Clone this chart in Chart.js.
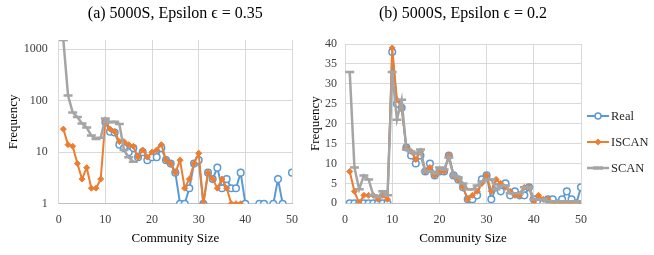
<!DOCTYPE html>
<html><head><meta charset="utf-8">
<script src="https://cdn.jsdelivr.net/npm/chart.js@4.4.0/dist/chart.umd.min.js"></script>
<style>
html,body{margin:0;padding:0;background:#fff;}
#wrap{position:relative;width:654px;height:255px;overflow:hidden;font-family:"Liberation Serif",serif;background:#fff;}
#c1{position:absolute;left:0;top:0;}
#c2{position:absolute;left:300px;top:0;}
.leg{position:absolute;left:587px;height:14px;display:flex;align-items:center;font-size:12.5px;color:#262626;white-space:nowrap;}
.leg svg{margin-right:2px;}
</style></head>
<body><div id="wrap">
<canvas id="c1" width="310" height="255"></canvas>
<canvas id="c2" width="354" height="255"></canvas>
<div class="leg" style="top:109px"><svg width="22" height="10"><line x1="0" y1="5" x2="22" y2="5" stroke="#5B9BD5" stroke-width="2"/><circle cx="11" cy="5" r="3" fill="#fff" stroke="#5B9BD5" stroke-width="1.5"/></svg>Real</div>
<div class="leg" style="top:135px"><svg width="22" height="10"><line x1="0" y1="5" x2="22" y2="5" stroke="#ED7D31" stroke-width="2"/><polygon points="11,1.5 14.5,5 11,8.5 7.5,5" fill="#ED7D31"/></svg>ISCAN</div>
<div class="leg" style="top:161px"><svg width="22" height="10"><line x1="0" y1="5" x2="22" y2="5" stroke="#A5A5A5" stroke-width="2.5"/><rect x="6" y="3.3" width="10" height="3.4" fill="#A5A5A5"/></svg>SCAN</div>
</div>
<script>
// ---- data ----
const sizes = [1,2,3,4,5,6,7,8,9,10,11,12,13,14,15,16,17,18,19,20,21,22,23,24,25,26,27,28,29,30,31,32,33,34,35,36,37,38,39,40,41,42,43,44,45,46,47,48,49,50];
const realCounts = [0,0,0,0,0,0,0,0,0,38, 25,24,14,12,10,12,8,10,7,8, 8,12,7,6,4,1,1,2,6,7, 1,4,3,5,2,3,2,2,4,1, 0,0,1,1,0,1,3,1,0,4];
const iscanA = [28,14,13,6,3,5,2,2,3,41, 28,25,16,16,14,13,8,11,8,10, 11,14,7,6,4,7,2,3,6,9.5, 1,4,3,2,3,2,1,1,1,0, 0,0,0,0,0,0,0,0,0,0];
const scanA = [1500,125,59,48,36,30,21,18,19,45, 38,39,35,11,8,6.5,0,0,0,0, 0,0,0,0,0,0,0,0,0,0, 0,0,0,0,0,0,0,0,0,0, 0,0,0,0,0,0,0,0,0,0];
const iscanB = [8,3,0,2,2,2,1,2,1,39, 26,24,14,13,11,13,8,9,7,8, 8,12,7,6,4,1,2,3,5,7, 3,6,5,4,3,2,2,4,4,0, 2,1,1,0,0,0,0,0,0,0];
const scanB = [33,9,3.5,7,6,2,1.5,3,2,33, 21,26,13.5,13,12.5,13.5,8,8,7.5,9, 8.5,11.5,7,6.5,5,3.5,3.5,4.5,5.5,6, 6,3.5,4.5,4.5,2.5,2.5,2.5,4,4,1, 1,1,0.5,0.5,0.5,0.5,0.5,0.5,0.5,0];
const logTicks = [1,10,100,1000];
const seriesNames = ['Real','ISCAN','SCAN'];
const titleA = '(a) 5000S, Epsilon \u03f5 = 0.35';
const titleB = '(b) 5000S, Epsilon \u03f5 = 0.2';

// ---- styling ----
Chart.defaults.font.family = "'Liberation Serif', 'Times New Roman', serif";
Chart.defaults.color = '#404040';
const BLUE = '#5B9BD5', ORANGE = '#ED7D31', GRAY = '#A5A5A5', GRID = '#D9D9D9';

function pts(vals, log) {
  return sizes.map((s, i) => ({x: s, y: (log && !(vals[i] > 0)) ? null : vals[i]}));
}
function datasets(real, iscan, scan, log) {
  return [
    {label: seriesNames[0], data: pts(real, log), borderColor: BLUE, borderWidth: 2, pointStyle: 'circle',
     pointRadius: 3.3, pointBorderWidth: 1.5, pointBackgroundColor: '#ffffff', pointBorderColor: BLUE, order: 3},
    {label: seriesNames[1], data: pts(iscan, log), borderColor: ORANGE, borderWidth: 2, pointStyle: 'rectRot',
     pointRadius: 3, pointBorderWidth: 1, pointBackgroundColor: ORANGE, pointBorderColor: ORANGE, order: 2},
    {label: seriesNames[2], data: pts(scan, log), borderColor: GRAY, borderWidth: 2.5, pointStyle: 'line',
     pointRadius: 4.5, pointBorderWidth: 2.5, pointBorderColor: GRAY, order: 1}
  ];
}
function xScale(h) {
  return {type: 'linear', min: 0, max: 50,
    ticks: {stepSize: 10, padding: 9, font: {size: 12}, color: '#404040', maxRotation: 0},
    grid: {color: GRID, drawTicks: false}, border: {color: '#BFBFBF'},
    title: {display: true, text: 'Community Size', font: {size: 13}, color: '#000', padding: {top: 0, bottom: 8.5}},
    afterFit: s => { s.height = h; }};
}
function titleOpts(text, pb) {
  return {display: true, text: text, fullSize: false, font: {size: 16, weight: 'normal'}, color: '#000',
    padding: {top: 4.4, bottom: pb}};
}

new Chart(document.getElementById('c1'), {
  type: 'line',
  data: {datasets: datasets(realCounts, iscanA, scanA, true)},
  options: {
    responsive: false, animation: false, devicePixelRatio: 1,
    layout: {padding: {left: 0, right: 18, top: 0, bottom: 0}},
    plugins: {legend: {display: false}, tooltip: {enabled: false}, title: titleOpts(titleA, 16.4)},
    scales: {
      x: xScale(51.3),
      y: {type: 'logarithmic', min: 1, max: 1500,
        afterBuildTicks: s => { s.ticks = logTicks.map(v => ({value: v})); },
        ticks: {callback: v => String(v), padding: 11, font: {size: 12}, color: '#404040'},
        grid: {color: GRID, drawTicks: false}, border: {color: GRID},
        title: {display: true, text: 'Frequency', font: {size: 13}, color: '#000', padding: {top: 6, bottom: 0}},
        afterFit: s => { s.width = 58.7; }}
    }
  }
});

new Chart(document.getElementById('c2'), {
  type: 'line',
  data: {datasets: datasets(realCounts, iscanB, scanB, false)},
  options: {
    responsive: false, animation: false, devicePixelRatio: 1,
    layout: {padding: {left: 0, right: 73, top: 0, bottom: 0}},
    plugins: {legend: {display: false}, tooltip: {enabled: false}, title: titleOpts(titleB, 20.4)},
    scales: {
      x: xScale(51.7),
      y: {type: 'linear', min: 0, max: 40,
        ticks: {stepSize: 5, padding: 8, font: {size: 12}, color: '#404040'},
        grid: {color: GRID, drawTicks: false}, border: {color: GRID},
        title: {display: true, text: 'Frequency', font: {size: 13}, color: '#000', padding: {top: 8, bottom: 0}},
        afterFit: s => { s.width = 45; }}
    }
  }
});
</script>
</body></html>
